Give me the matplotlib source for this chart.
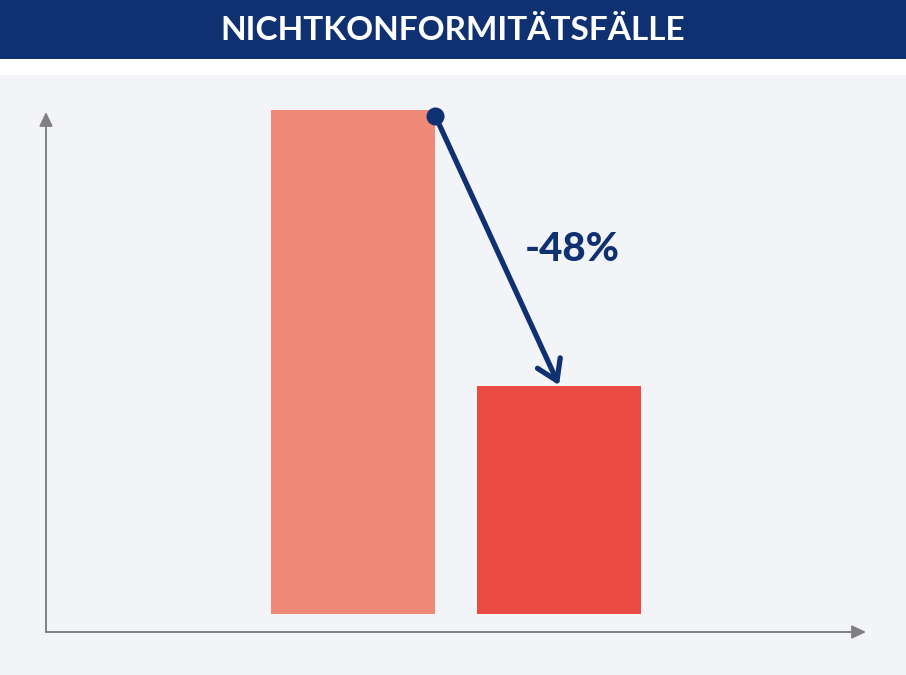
import matplotlib
matplotlib.use("Agg")
import matplotlib.pyplot as plt
from matplotlib.patches import Rectangle

# chart data
title = "NICHTKONFORMITÄTSFÄLLE"
categories = ["Vorher", "Nachher"]
values = [100, 45.2]
change_label = "-48%"

bar_colors = ["#ef8a76", "#e94a41"]
navy = "#0f3172"
bg = "#f3f4f8"
axis_gray = "#808080"

plt.rcParams['font.family'] = ['Lato', 'DejaVu Sans']

W, H = 906, 675
fig = plt.figure(figsize=(W / 100, H / 100), dpi=100)
fig.patch.set_facecolor("white")

# banner and panel background
fig.patches.append(Rectangle((0, 1 - 59 / H), 1, 59 / H, transform=fig.transFigure,
                             facecolor=navy, edgecolor="none", zorder=-2))
fig.patches.append(Rectangle((0, 0), 1, 1 - 75 / H, transform=fig.transFigure,
                             facecolor=bg, edgecolor="none", zorder=-2))
fig.text(0.5, 1 - 31 / H, title, color="white", fontsize=24, fontweight="bold",
         ha="center", va="center")

# axes area in pixels
left, right, bottom, top = 46, 866, 632, 100
ax = fig.add_axes([left / W, 1 - bottom / H, (right - left) / W, (bottom - top) / H])
ax.set_zorder(2)
ax.set_facecolor("none")
for s in ax.spines.values():
    s.set_visible(False)
ax.set_xticks([])
ax.set_yticks([])

x = range(len(categories))
width = 0.8
ax.set_xlim(-1.49, 2.49)
ax.set_ylim(-3.57, 102.0)
ax.bar(x, values, width=width, color=bar_colors, clip_on=False, zorder=2)

# axis arrows
head = "-|>,head_length=0.42,head_width=0.2"
ax.annotate("", xy=(0, (bottom - 112) / (bottom - top)), xytext=(0, 0),
            xycoords="axes fraction",
            arrowprops=dict(arrowstyle=head, color=axis_gray, lw=1.4,
                            mutation_scale=20, shrinkA=0, shrinkB=0))
ax.annotate("", xy=(1, 0), xytext=(0, 0), xycoords="axes fraction",
            arrowprops=dict(arrowstyle=head, color=axis_gray, lw=1.4,
                            mutation_scale=20, shrinkA=0, shrinkB=0))

# change arrow from top of first bar to top of second
start = (x[0] + width / 2, values[0] - 1.2)
end = (x[1], values[1] + 0.2)
ax.annotate("", xy=end, xytext=start,
            arrowprops=dict(arrowstyle="->,head_length=0.7,head_width=0.45",
                            color=navy, lw=3.8, mutation_scale=20,
                            shrinkA=0, shrinkB=0, capstyle="round",
                            joinstyle="round"), zorder=4)
ax.plot(*start, "o", color=navy, markersize=12, clip_on=False, zorder=5)
ax.text(1.063, 72.4, change_label, color=navy, fontsize=29, fontweight="black",
        ha="center", va="center", zorder=5)

fig.savefig("out.png", dpi=100, facecolor=fig.get_facecolor())
